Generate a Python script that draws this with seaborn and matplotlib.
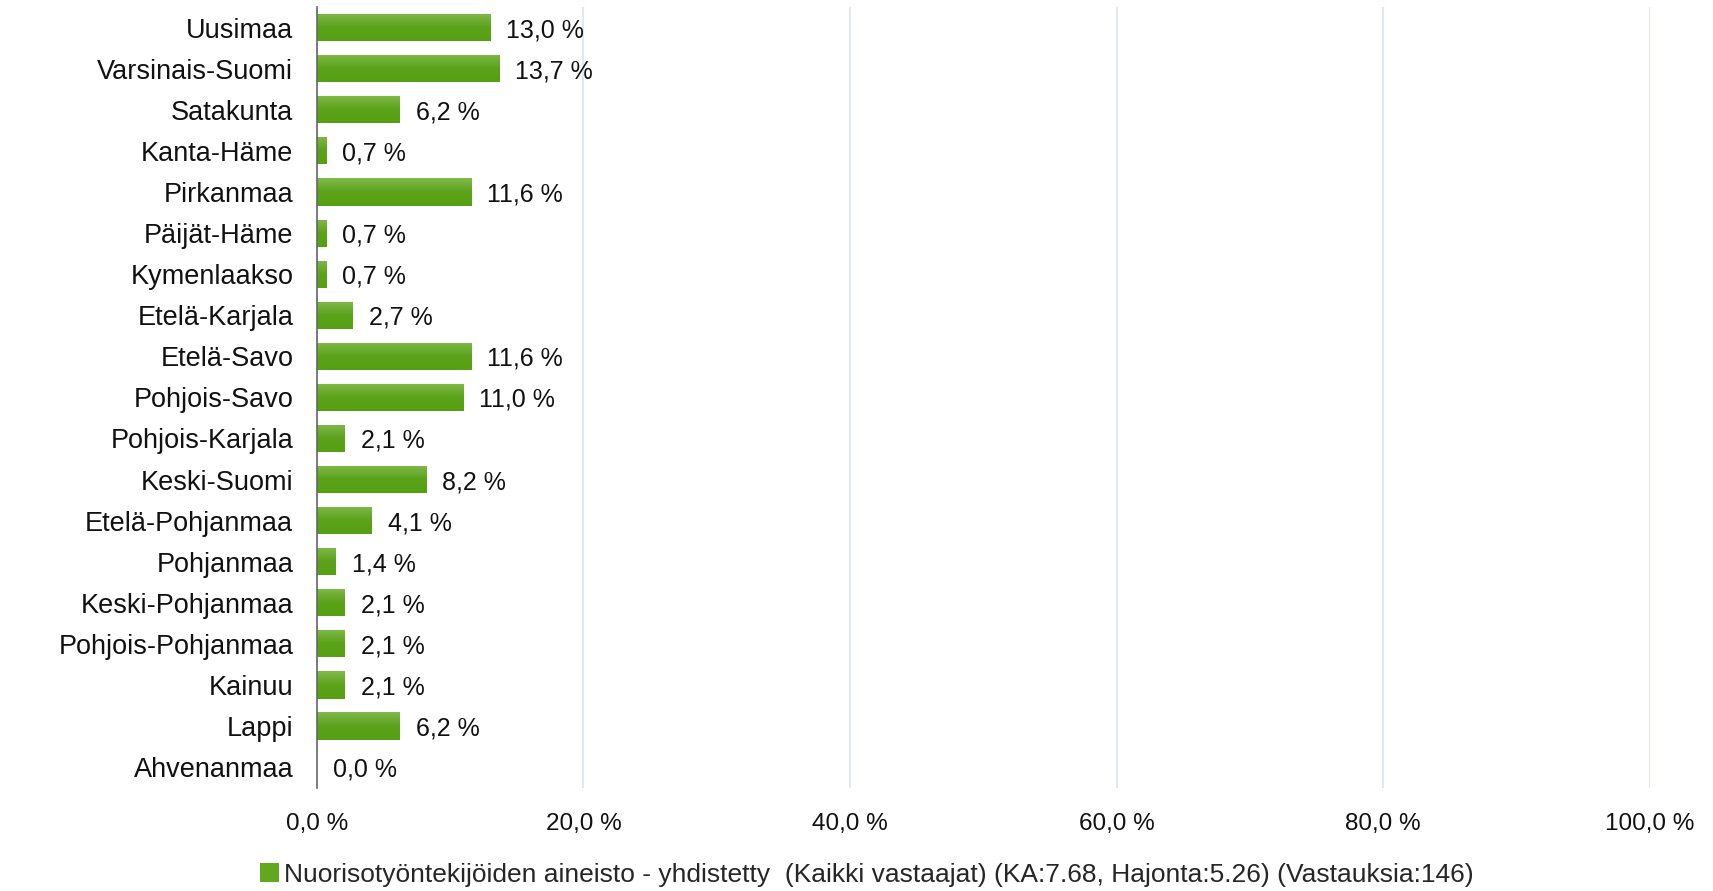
import matplotlib
matplotlib.use("Agg")
import matplotlib.pyplot as plt
import seaborn as sns
import numpy as np
import pandas as pd
from matplotlib.colors import LinearSegmentedColormap
from matplotlib.patches import Patch

regions = ["Uusimaa", "Varsinais-Suomi", "Satakunta", "Kanta-Häme", "Pirkanmaa",
           "Päijät-Häme", "Kymenlaakso", "Etelä-Karjala", "Etelä-Savo", "Pohjois-Savo",
           "Pohjois-Karjala", "Keski-Suomi", "Etelä-Pohjanmaa", "Pohjanmaa",
           "Keski-Pohjanmaa", "Pohjois-Pohjanmaa", "Kainuu", "Lappi", "Ahvenanmaa"]
values = [13.0, 13.7, 6.2, 0.7, 11.6, 0.7, 0.7, 2.7, 11.6, 11.0,
          2.1, 8.2, 4.1, 1.4, 2.1, 2.1, 2.1, 6.2, 0.0]
xticks = [0, 20, 40, 60, 80, 100]
legend_label = ("Nuorisotyöntekijöiden aineisto - yhdistetty  (Kaikki vastaajat) "
                "(KA:7.68, Hajonta:5.26) (Vastauksia:146)")

sns.set_style("white")
plt.rcParams['font.family'] = ['Liberation Sans', 'DejaVu Sans']

df = pd.DataFrame({"region": regions, "value": values})

fig = plt.figure(figsize=(17.13, 8.91), dpi=100)
ax = fig.add_axes([0.185, 0.116, 0.778, 0.876])

sns.barplot(data=df, y="region", x="value", orient="h", color="#62a81e",
            width=0.66, ax=ax, zorder=3)

cmap = LinearSegmentedColormap.from_list("g", ["#80b94a", "#5ca21a", "#55a012"])
grad = np.linspace(0, 1, 64).reshape(-1, 1)
for p in ax.patches:
    x0, y0 = p.get_x(), p.get_y()
    w, h = p.get_width(), p.get_height()
    if w <= 0:
        continue
    im = ax.imshow(grad, cmap=cmap, aspect="auto",
                   extent=[x0, x0 + w, y0 + h, y0], origin="upper", zorder=4)
    im.set_clip_path(p)

for i, v in enumerate(values):
    ax.text(v + 1.2, i, f"{v:.1f} %".replace(".", ","), va="center_baseline",
            ha="left", fontsize=18, color="#111111", zorder=5)

ax.set_xlim(0, 100)
ax.set_ylim(len(regions) - 0.5, -0.5)
ax.set_xticks(xticks)
ax.set_xticklabels([f"{t:.1f} %".replace(".", ",") for t in xticks],
                   fontsize=17.5, color="#111111")
ax.tick_params(axis="x", length=0, pad=18)
ax.tick_params(axis="y", length=0, pad=17, labelsize=19.5, labelcolor="#111111")
ax.set_xlabel("")
ax.set_ylabel("")
ax.grid(axis="x", color="#dbe4ef", linewidth=1.2, zorder=0)
ax.grid(axis="y", visible=False)
for s in ["top", "right", "bottom"]:
    ax.spines[s].set_visible(False)
ax.spines["left"].set_color("#666666")
ax.spines["left"].set_linewidth(1.2)
ax.spines["left"].set_zorder(6)

handle = Patch(facecolor="#62a81e", edgecolor="none")
fig.legend([handle], [legend_label], loc="center", bbox_to_anchor=(0.506, 0.018),
           frameon=False, fontsize=19, handlelength=0.7, handleheight=0.7,
           handletextpad=0.2)

fig.savefig("out.png", dpi=100)
